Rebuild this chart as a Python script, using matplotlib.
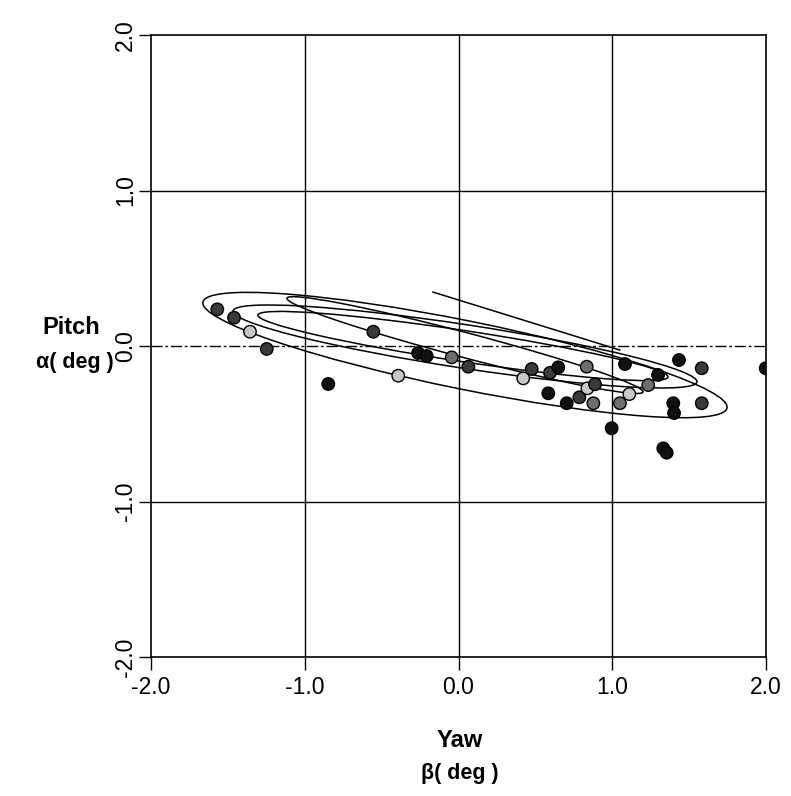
import matplotlib
matplotlib.use("Agg")
import matplotlib.pyplot as plt
from matplotlib.patches import Ellipse

plt.rcParams['font.family'] = ['Liberation Sans', 'DejaVu Sans']

# --- data -------------------------------------------------------------
yaw = [-1.569, -1.460, -1.356, -1.247, -0.847, -0.554, -0.392, -0.263, -0.207,
       -0.044, 0.064, 0.421, 0.476, 0.595, 0.649, 0.584, 0.704, 0.786, 0.834,
       0.838, 0.888, 0.877, 0.996, 1.050, 1.083, 1.111, 1.234, 1.298, 1.434,
       1.582, 1.397, 1.402, 1.582, 1.332, 1.354, 1.998]
pitch = [0.236, 0.182, 0.092, -0.019, -0.244, 0.092, -0.191, -0.045, -0.064,
         -0.073, -0.133, -0.208, -0.148, -0.172, -0.137, -0.304, -0.368, -0.330,
         -0.133, -0.272, -0.246, -0.368, -0.529, -0.368, -0.116, -0.309, -0.251,
         -0.186, -0.090, -0.143, -0.368, -0.431, -0.368, -0.658, -0.686, -0.143]
# shade class of each point: 0 black, 1 dark grey, 2 grey, 3 light
shade = [1, 1, 3, 1, 0, 1, 3, 0, 0,
         2, 1, 3, 1, 1, 0, 0, 0, 1, 2,
         3, 1, 2, 0, 2, 0, 3, 2, 0, 0,
         1, 0, 0, 1, 0, 0, 0]

# uncertainty ellipses: centre, full width / height, rotation (deg)
ell_cx = [0.042, 0.042, 0.029, 0.042]
ell_cy = [-0.058, -0.003, 0.000, 0.006]
ell_w = [3.476, 3.052, 2.697, 2.393]
ell_h = [0.44, 0.28, 0.20, 0.16]
ell_ang = [-11.3, -8.6, -8.5, -14.6]

# open trace segment
seg_x = [-0.166, 1.050]
seg_y = [0.347, -0.026]

ticks = [-2.0, -1.0, 0.0, 1.0, 2.0]
tick_labels = ["-2.0", "-1.0", "0.0", "1.0", "2.0"]

# --- figure -----------------------------------------------------------
fig = plt.figure(figsize=(7.91, 7.96), dpi=100)
ax = fig.add_axes([0.1909, 0.1746, 0.7775, 0.7814])
ax.set_xlim(-2, 2)
ax.set_ylim(-2, 2)

for v in [-1.0, 1.0]:
    ax.axvline(v, color='black', lw=1.0, zorder=1)
    ax.axhline(v, color='black', lw=1.0, zorder=1)
ax.axvline(0.0, color='black', lw=1.0, zorder=1)
ax.axhline(0.0, color='black', lw=1.0, ls=(0, (8, 2, 2, 2)), zorder=1)

for cx, cy, w, h, a in zip(ell_cx, ell_cy, ell_w, ell_h, ell_ang):
    ax.add_patch(Ellipse((cx, cy), w, h, angle=a, fill=False,
                         edgecolor='black', lw=1.1, zorder=2))
ax.plot(seg_x, seg_y, color='black', lw=1.1, zorder=2)

face = {0: '#111111', 1: '#3a3a3a', 2: '#6e6e6e', 3: '#c8c8c8'}
ax.scatter(yaw, pitch, s=80, c=[face[k] for k in shade],
           edgecolors='black', linewidths=1.0, zorder=3)

ax.set_xticks(ticks)
ax.set_xticklabels(tick_labels, fontsize=16.5)
ax.set_yticks(ticks)
ax.set_yticklabels(tick_labels, fontsize=16.5, rotation=90, va='center')
ax.tick_params(direction='out', length=9, width=1.0)
ax.tick_params(axis='x', pad=5)
ax.tick_params(axis='y', pad=1)
for sp in ax.spines.values():
    sp.set_linewidth(1.2)

fig.text(0.090, 0.588, "Pitch", ha='center', va='center', fontsize=17,
         fontweight='bold')
fig.text(0.095, 0.545, "α( deg )", ha='center', va='center', fontsize=15.5,
         fontweight='bold')
fig.text(0.581, 0.070, "Yaw", ha='center', va='center', fontsize=17,
         fontweight='bold')
fig.text(0.581, 0.028, "β( deg )", ha='center', va='center', fontsize=15.5,
         fontweight='bold')

fig.savefig("out.png", dpi=100)
